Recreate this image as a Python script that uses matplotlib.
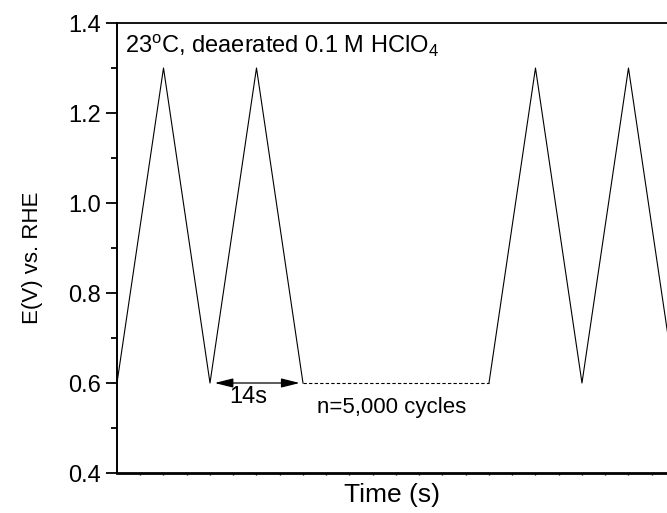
import numpy as np
import matplotlib
matplotlib.use('agg')
import matplotlib.pyplot as plt

plt.rcParams['font.family'] = ['Liberation Sans', 'DejaVu Sans']
plt.rcParams['mathtext.fontset'] = 'custom'
plt.rcParams['mathtext.rm'] = 'Liberation Sans'
plt.rcParams['mathtext.it'] = 'Liberation Sans:italic'

# potential cycling waveform (time in s, E in V vs RHE)
t_first = [0, 7, 14, 21, 28]
e_first = [0.6, 1.3, 0.6, 1.3, 0.6]
t_gap = [28, 56]
e_gap = [0.6, 0.6]
t_last = [56, 63, 70, 77, 84]
e_last = [0.6, 1.3, 0.6, 1.3, 0.6]
tmax = 82.8

fig = plt.figure(figsize=[6.67, 5.13], dpi=100)
ax = fig.add_axes([117/667., 40/513., 1.0-117/667., 450/513.])

ax.plot(t_first, e_first, color='black', linewidth=0.8)
ax.plot(t_gap, e_gap, color='black', linewidth=0.8, linestyle=(0, (3, 2)))
ax.plot(t_last, e_last, color='black', linewidth=0.8)

ax.set_xlim(0, tmax)
ax.set_ylim(0.4, 1.4)
ax.set_yticks(np.arange(0.4, 1.41, 0.2))
ax.set_yticks(np.arange(0.5, 1.4, 0.2), minor=True)
ax.yaxis.set_major_formatter(matplotlib.ticker.FormatStrFormatter('%.1f'))
ax.tick_params(axis='y', which='major', direction='out', length=8, width=1.3, labelsize=17)
ax.tick_params(axis='y', which='minor', direction='out', length=4, width=1.3)
ax.set_xticks(np.arange(3.5, tmax, 3.5))
ax.tick_params(axis='x', which='major', direction='out', length=1.5, width=1.0, labelbottom=False)

ax.spines['right'].set_visible(False)
ax.spines['left'].set_linewidth(1.4)
ax.spines['bottom'].set_linewidth(2.0)
ax.spines['top'].set_linewidth(1.3)

ax.set_ylabel('E(V) vs. RHE', fontsize=16)
ax.yaxis.set_label_coords(-0.135, 0.478)
ax.set_xlabel('Time (s)', fontsize=19, labelpad=6)

ax.text(1.2, 1.333, r'23$^{\rm o}$C, deaerated 0.1 M HClO$_4$', fontsize=17, ha='left', va='baseline')

ax.annotate('', xy=(14.7, 0.6), xytext=(27.5, 0.6),
            arrowprops=dict(arrowstyle='<|-|>,head_length=0.8,head_width=0.2', color='black',
                            lw=0.9, shrinkA=0, shrinkB=0, mutation_scale=14))
ax.text(19.7, 0.5556, '14s', fontsize=17, ha='center', va='baseline')
ax.text(41.4, 0.5333, 'n=5,000 cycles', fontsize=16, ha='center', va='baseline')

plt.savefig('out.png', format='png', dpi=100)
plt.close(fig)
